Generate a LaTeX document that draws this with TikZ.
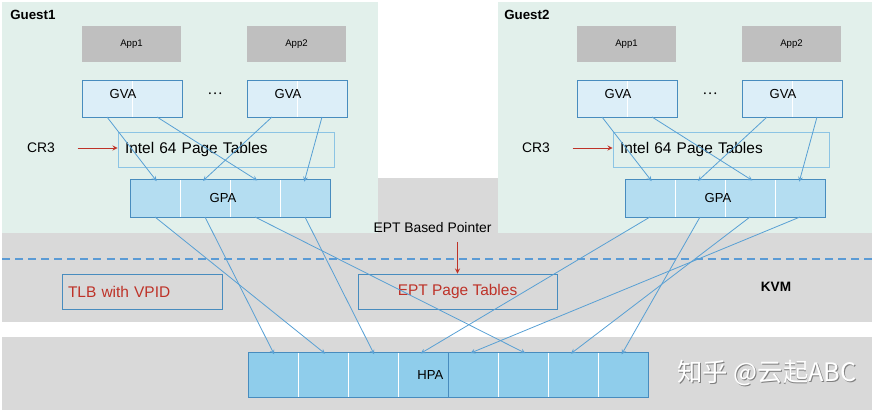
\documentclass[tikz,border=0pt]{standalone}
\usepackage{fontspec}
\setmainfont{Liberation Sans}
\newfontfamily\cjk{Noto Sans CJK SC}
\usetikzlibrary{positioning}

\newdimen\pxu \pxu=0.75pt

\definecolor{guestbg}{RGB}{226,240,235}
\definecolor{kvmgray}{RGB}{217,217,217}
\definecolor{appgray}{RGB}{191,191,191}
\definecolor{gvafill}{RGB}{220,238,248}
\definecolor{gpafill}{RGB}{180,221,241}
\definecolor{hpafill}{RGB}{143,205,235}
\definecolor{frameblue}{RGB}{72,140,190}
\definecolor{paleblue}{RGB}{140,196,228}
\definecolor{linkblue}{RGB}{88,160,212}
\definecolor{dashblue}{RGB}{91,155,213}
\definecolor{eptred}{RGB}{190,50,40}

\tikzset{
  guesttitle/.style={anchor=west, inner sep=0pt, font=\fontsize{10}{12}\selectfont\bfseries},
  app/.style={fill=appgray, minimum width=99\pxu, minimum height=36\pxu, font=\fontsize{7.2}{8.6}\selectfont},
  cell/.style={draw=white, line width=0.5pt, inner sep=0pt, outer sep=0pt, minimum width=50\pxu},
  gvacell/.style={cell, fill=gvafill, minimum height=37\pxu},
  gpacell/.style={cell, fill=gpafill, minimum height=38\pxu},
  hpacell/.style={cell, fill=hpafill, minimum height=45\pxu},
  boxframe/.style={draw=frameblue, line width=0.7pt, inner sep=0pt, outer sep=0pt},
  boxtext/.style={font=\fontsize{9.8}{11}\selectfont},
  tablebox/.style={line width=0.7pt, minimum height=35\pxu, inner xsep=7\pxu, align=left, font=\fontsize{11.6}{13}\selectfont},
  plain/.style={font=\fontsize{10.4}{12}\selectfont},
  link/.style={->, draw=linkblue, line width=0.6pt, shorten >=-2pt},
  redarrow/.style={->, draw=eptred, line width=0.7pt},
  dashline/.style={draw=dashblue, line width=1.5pt, dash pattern=on 6pt off 3.8pt}
}

\begin{document}
\begin{tikzpicture}[x=0.75pt,y=-0.75pt,>=stealth]
  \useasboundingbox (0,0) rectangle (884,410);

  % guests and KVM bands
  \fill[guestbg] (2,2) rectangle (378,233);
  \fill[guestbg] (498,2) rectangle (872,233);
  \fill[kvmgray] (378,178) rectangle (498,233);
  \fill[kvmgray] (2,233) rectangle (872,322);
  \fill[kvmgray] (2,337) rectangle (872,410);
  \draw[dashline] (2,259) -- (872,259);

  % Guest1
  \node[guesttitle] (titleA) at (10,15) {Guest1};
  \node[app] (appA1) at (131.5,44) {App1};
  \node[app] (appA2) at (296.5,44) {App2};
  \node[gvacell] (gvaA1a) at (107,98.5) {};
  \node[gvacell, right=0pt of gvaA1a] (gvaA1b) {};
  \node[boxframe, minimum width=100\pxu, minimum height=37\pxu,
        label={[boxtext, xshift=-9\pxu, yshift=4\pxu]center:GVA}] (gvaA1) at (132,98.5) {};
  \node[plain] (dotsA) at (215,94) {\cjk …};
  \node[gvacell] (gvaA2a) at (272,98.5) {};
  \node[gvacell, right=0pt of gvaA2a] (gvaA2b) {};
  \node[boxframe, minimum width=100\pxu, minimum height=37\pxu,
        label={[boxtext, xshift=-9\pxu, yshift=4\pxu]center:GVA}] (gvaA2) at (297,98.5) {};
  \node[plain] (crA) at (41,148) {CR3};
  \node[tablebox, draw=paleblue, text width=202\pxu] (intelA) at (226,149.5) {Intel 64 Page Tables};
  \node[gpacell] (gpaA1) at (155,198) {};
  \node[gpacell, right=0pt of gpaA1] (gpaA2) {};
  \node[gpacell, right=0pt of gpaA2] (gpaA3) {};
  \node[gpacell, right=0pt of gpaA3] (gpaA4) {};
  \node[boxframe, minimum width=200\pxu, minimum height=38\pxu,
        label={[boxtext, xshift=-7\pxu]center:GPA}] (gpaA) at (230,198) {};

  % Guest2
  \node[guesttitle] (titleB) at (504,15) {Guest2};
  \node[app] (appB1) at (626.5,44) {App1};
  \node[app] (appB2) at (791.5,44) {App2};
  \node[gvacell] (gvaB1a) at (602,98.5) {};
  \node[gvacell, right=0pt of gvaB1a] (gvaB1b) {};
  \node[boxframe, minimum width=100\pxu, minimum height=37\pxu,
        label={[boxtext, xshift=-9\pxu, yshift=4\pxu]center:GVA}] (gvaB1) at (627,98.5) {};
  \node[plain] (dotsB) at (710,94) {\cjk …};
  \node[gvacell] (gvaB2a) at (767,98.5) {};
  \node[gvacell, right=0pt of gvaB2a] (gvaB2b) {};
  \node[boxframe, minimum width=100\pxu, minimum height=37\pxu,
        label={[boxtext, xshift=-9\pxu, yshift=4\pxu]center:GVA}] (gvaB2) at (792,98.5) {};
  \node[plain] (crB) at (536,148) {CR3};
  \node[tablebox, draw=paleblue, text width=202\pxu] (intelB) at (721,149.5) {Intel 64 Page Tables};
  \node[gpacell] (gpaB1) at (650,198) {};
  \node[gpacell, right=0pt of gpaB1] (gpaB2) {};
  \node[gpacell, right=0pt of gpaB2] (gpaB3) {};
  \node[gpacell, right=0pt of gpaB3] (gpaB4) {};
  \node[boxframe, minimum width=200\pxu, minimum height=38\pxu,
        label={[boxtext, xshift=-7\pxu]center:GPA}] (gpaB) at (725,198) {};

  % KVM
  \node[plain] (eptPtr) at (432.5,228) {EPT Based Pointer};
  \node[tablebox, draw=frameblue, text=eptred, text width=148\pxu, inner xsep=6\pxu] (tlb) at (142,292) {TLB with VPID};
  \node[tablebox, draw=frameblue, text=eptred, minimum width=199\pxu, align=center] (eptTab) at (457.5,291.5) {EPT Page Tables};
  \node[plain, font=\fontsize{10.2}{12}\selectfont\bfseries] (kvm) at (776,287) {KVM};

  % HPA
  \node[hpacell] (hpa1) at (273,374.5) {};
  \node[hpacell, right=0pt of hpa1] (hpa2) {};
  \node[hpacell, right=0pt of hpa2] (hpa3) {};
  \node[hpacell, right=0pt of hpa3] (hpa4) {};
  \node[hpacell, right=0pt of hpa4] (hpa5) {};
  \node[hpacell, right=0pt of hpa5] (hpa6) {};
  \node[hpacell, right=0pt of hpa6] (hpa7) {};
  \node[hpacell, right=0pt of hpa7] (hpa8) {};
  \node[boxframe, minimum width=200\pxu, minimum height=45\pxu,
        label={[boxtext, anchor=east]east:HPA}] (hpaL) at (348,374.5) {};
  \node[boxframe, minimum width=200\pxu, minimum height=45\pxu] (hpaR) at (548,374.5) {};

  \node[font=\cjk\fontsize{19}{22}\selectfont, text=gray] (wmShadow) at (767.9,373.9) {知乎 @云起ABC};
  \node[font=\cjk\fontsize{19}{22}\selectfont, text=white] (wm) at (767,373) {知乎 @云起ABC};

  % pointers
  \draw[redarrow, shorten <=18\pxu] (crA.east) -- (crA.east -| intelA.west);
  \draw[redarrow, shorten <=18\pxu] (crB.east) -- (crB.east -| intelB.west);
  \draw[redarrow, shorten <=4\pxu] (eptPtr.south -| eptTab.north) -- (eptTab.north);

  % GVA -> GPA
  \draw[link] (gvaA1a.south) -- (gpaA1.north);
  \draw[link] (gvaA1b.south) -- (gpaA3.north);
  \draw[link] (gvaA2a.south) -- (gpaA2.north);
  \draw[link] (gvaA2b.south) -- (gpaA4.north);
  \draw[link] (gvaB1a.south) -- (gpaB1.north);
  \draw[link] (gvaB1b.south) -- (gpaB3.north);
  \draw[link] (gvaB2a.south) -- (gpaB2.north);
  \draw[link] (gvaB2b.south) -- (gpaB4.north);

  % GPA -> HPA
  \draw[link] (gpaA1.south) -- (hpa2.north);
  \draw[link] (gpaA2.south) -- (hpa1.north);
  \draw[link] (gpaA3.south) -- (hpa6.north);
  \draw[link] (gpaA4.south) -- (hpa3.north);
  \draw[link] (gpaB1.south) -- (hpa4.north);
  \draw[link] (gpaB2.south) -- (hpa8.north);
  \draw[link] (gpaB3.south) -- (hpa7.north);
  \draw[link] (gpaB4.south) -- (hpa5.north);

\end{tikzpicture}
\end{document}
